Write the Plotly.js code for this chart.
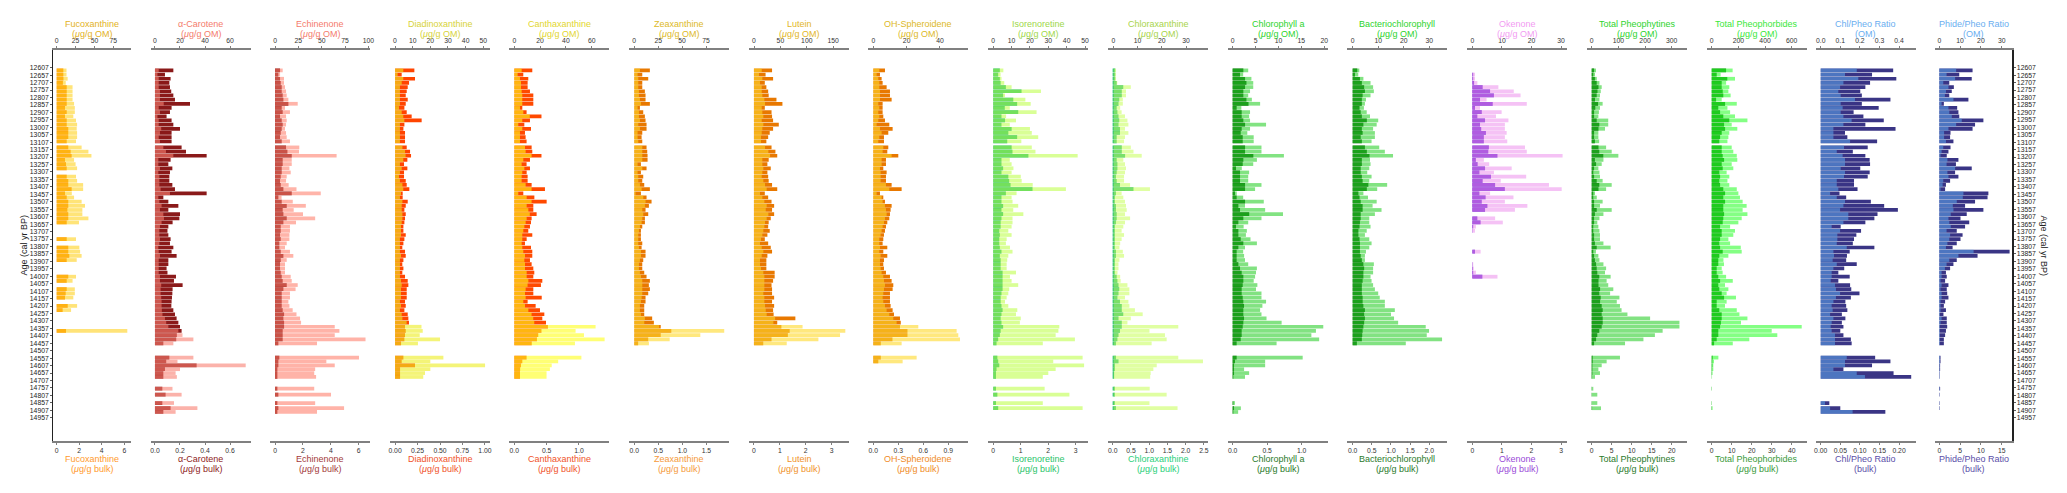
<!DOCTYPE html>
<html>
<head>
<meta charset="utf-8">
<script src="https://cdn.plot.ly/plotly-3.0.1.min.js"></script>
<style>body{margin:0;background:#fff}</style>
</head>
<body>
<div id="chart" style="width:2067px;height:493px"></div>
<script>
var NA = null;

// sample ages (cal yr BP)
var ages = [12625,12653,12681,12709,12737,12765,12793,12821,12849,12877,12905,12933,12961,12989,13017,13045,13073,13101,
  13142,13170,13198,13226,13254,13282,13310,13338,13366,13394,
  13422,13450,13478,13506,13534,13562,13590,13618,13646,13674,
  13702,13730,13758,13786,13814,13842,13870,13898,13926,13954,
  13982,14010,14038,14066,14094,14122,14150,14178,14206,14234,
  14262,14290,14318,14346,14374,14402,14430,14458,
  14553,14579,14605,14631,14657,14683,
  14762,14802,
  14858,14893,14918];

var ageTicks = [12607,12657,12707,12757,12807,12857,12907,12957,13007,13057,13107,13157,13207,13257,13307,13357,
  13407,13457,13507,13557,13607,13657,13707,13757,13807,13857,13907,13957,14007,14057,14107,14157,
  14207,14257,14307,14357,14407,14457,14507,14557,14607,14657,14707,14757,14807,14857,14907,14957];

// Fucoxanthine
var fucoOM = [13,13,14.5,12,21,21,21,21,23,24,24,22,25.6,27,26.5,27,27,25.6,
  33,42,46,23,25,27,NA,25.6,27,35,
  35,20,23,33,37.5,34,34,42,29.5,NA,
  NA,NA,25.6,NA,30,31,33,26.5,NA,NA,
  NA,25.6,21,NA,24,24,22,NA,27,19,
  NA,NA,NA,NA,93.5,NA,NA,NA,
  NA,NA,NA,NA,NA,NA, NA,NA, NA,NA,NA];
var fucoBulk = [0.59,0.59,0.6,0.55,0.89,0.89,0.89,0.89,0.89,0.74,0.89,0.74,0.89,0.89,1.03,1.03,1.03,0.89,
  1.03,1.24,1.33,0.74,0.83,0.89,NA,0.89,1.03,1.03,
  1.33,0.74,0.89,1.03,1.03,0.95,1.03,1.03,0.89,NA,
  NA,NA,0.89,NA,1.03,1.03,1.12,0.89,NA,NA,
  NA,1.03,0.89,NA,0.89,0.8,0.74,NA,0.98,0.53,
  NA,NA,NA,NA,0.83,NA,NA,NA,
  NA,NA,NA,NA,NA,NA, NA,NA, NA,NA,NA];

// alpha-Carotene
var acarOM = [3,2,3,3,3,4,4,4,7,3,4,2,3,3,5,4,3,4,
  6.7,8.8,14.7,2.7,2.7,4,2.7,3.5,3.5,3.5,
  4.5,12,2.7,3.5,5.3,4,6.7,7.2,5.3,4,
  3.5,3.5,4,3.5,2.7,3,4,3,3,3,
  3,4,4,5,4.5,4.5,5,5.3,5.3,5.5,
  6,8,9,10.7,18.7,22,30.7,14.7,
  30.7,18,72.5,20,16.5,17.5, 14,21.3, 15.2,33.9,16.5];
var acarBulk = [0.147,0.08,0.125,0.115,0.12,0.13,0.147,0.16,0.28,0.133,0.12,0.093,0.133,0.147,0.2,0.133,0.133,0.133,
  0.213,0.248,0.413,0.125,0.107,0.139,0.12,0.115,0.115,0.139,
  0.16,0.413,0.067,0.107,0.187,0.107,0.2,0.195,0.141,0.107,
  0.1,0.107,0.125,0.12,0.147,0.133,0.173,0.107,0.107,0.093,
  0.1,0.168,0.152,0.221,0.141,0.139,0.136,0.133,0.131,0.147,
  0.16,0.173,0.187,0.2,0.213,0.175,0.17,0.067,
  0.115,0.09,0.333,0.08,0.067,0.067, 0.059,0.085, 0.059,0.125,0.067];

// Echinenone
var echOM = [8.2,5.4,9.6,9.6,10.7,11.8,12.5,14.3,24.3,10.7,16,11.8,12.5,11.8,10.7,11.8,12.5,16,
  26,25.7,66,17.9,17.9,15.4,16.8,12.5,11.8,14.6,
  23,49,7,19,33,20,30,43,22.5,16,
  16,15.4,15.4,12.5,10.7,16,19.6,12.5,10.7,10.7,
  10.7,16.8,17.9,24.3,22,16,16,14.3,15.4,18.9,
  23,26.8,27.9,64,69,64,97,45,
  90,55,64,43,42,44, 42,60, 43,74,45];
var echBulk = [0.36,0.24,0.36,0.41,0.48,0.48,0.55,0.6,0.96,0.48,0.55,0.36,0.48,0.55,0.48,0.41,0.36,0.48,
  0.79,0.89,1.2,0.55,0.55,0.48,0.48,0.41,0.36,0.41,
  0.6,1.2,0.24,0.48,0.84,0.55,0.6,0.84,0.6,0.41,
  0.41,0.36,0.41,0.31,0.31,0.41,0.6,0.41,0.36,0.36,
  0.41,0.48,0.55,0.84,0.6,0.48,0.48,0.48,0.48,0.55,
  0.65,0.6,0.65,0.65,0.55,0.55,0.55,0.24,
  0.31,0.24,0.24,0.17,0.17,0.17, 0.17,0.24, 0.17,0.24,0.17];

// Diadinoxanthine
var diaOM = [4.7,1.5,4.7,3.8,2.8,2.8,2.8,2.8,2.8,2.3,3.8,4.7,5.3,2.8,2.8,2.8,2.8,2.8,
  4.2,5.7,6,4.7,2.8,3.8,2.8,2.3,2.8,4.2,
  4.7,3.4,2.8,4.2,3.8,3.8,4.2,4.2,3.8,3.4,
  3.4,3.4,2.8,2.8,2.8,2.8,3.4,2.8,2.8,2.8,
  2.8,2.8,3.4,3.8,3.4,3.4,3.4,2.8,3.4,2.8,
  3.8,4.2,6.6,15,15.7,14,25.5,13,
  27.4,20,51,20,17,16, NA,NA, NA,NA,NA];
var diaBulk = [0.215,0.074,0.222,0.156,0.141,0.13,0.119,0.141,0.119,0.104,0.13,0.185,0.296,0.104,0.093,0.111,0.111,0.111,
  0.13,0.167,0.178,0.137,0.1,0.137,0.1,0.1,0.119,0.13,
  0.159,0.085,0.085,0.141,0.119,0.104,0.119,0.111,0.104,0.093,
  0.093,0.119,0.104,0.093,0.081,0.111,0.119,0.093,0.081,0.093,
  0.081,0.111,0.141,0.148,0.13,0.13,0.13,0.111,0.119,0.104,
  0.141,0.148,0.155,0.111,0.119,0.111,0.104,0.067,
  0.093,0.074,0.222,0.056,0.056,0.056, NA,NA, NA,NA,NA];

// Canthaxanthine
var canOM = [5.7,2.6,4.4,5.2,5.2,5.7,6.2,6.2,6.2,4.4,7,12,6.2,3.1,6.2,4.4,4.4,4.4,
  8.3,8.8,13.4,7,5.7,7.8,6.2,5.7,5.7,8.8,
  13.4,3.1,9.6,13.4,9.6,10.9,12,9.6,8.8,7.8,
  7,6.2,6.2,5.7,6.2,7,8.3,7.8,8.3,8.3,
  9.6,9.6,10.9,10.3,8.8,8.3,8.8,7,8.3,10.9,
  13.4,14.7,15.5,63,47.5,54,70,47,
  52,34,29,27.6,25,25, NA,NA, NA,NA,NA];
var canBulk = [0.278,0.139,0.216,0.206,0.206,0.242,0.294,0.294,0.294,0.124,0.19,0.42,0.242,0.155,0.258,0.165,0.175,0.19,
  0.268,0.278,0.42,0.242,0.19,0.242,0.191,0.206,0.206,0.268,
  0.474,0.139,0.31,0.5,0.294,0.294,0.345,0.268,0.258,0.242,
  0.216,0.278,0.191,0.165,0.258,0.278,0.278,0.242,0.268,0.294,
  0.309,0.294,0.433,0.412,0.294,0.294,0.424,0.206,0.33,0.397,
  0.464,0.433,0.49,0.52,0.42,0.37,0.35,0.27,
  0.19,0.124,0.103,0.09,0.088,0.088, NA,NA, NA,NA,NA];

// Zeaxanthine
var zeaOM = [5.9,3.5,4.2,4.2,4.2,4.9,4.9,5.9,7,3.5,4.9,4.9,5.9,4.2,5.9,3.5,3.5,4.2,
  8.4,8.4,8.4,8.4,3.5,8.4,3.5,4.2,4.2,5.9,
  7.7,1.4,9.4,11.8,11.1,8.4,9.4,8.4,7.7,5.9,
  4.9,4.2,4.2,4.2,4.9,7,7,5.9,4.9,4.9,
  5.9,7,8.4,8.4,8.4,8.4,7.7,7,5.9,5.9,
  7,11.1,10.5,26,94,69,37,15.3,
  NA,NA,NA,NA,NA,NA, NA,NA, NA,NA,NA];
var zeaBulk = [0.324,0.166,0.29,0.166,0.166,0.22,0.234,0.234,0.324,0.117,0.186,0.22,0.234,0.255,0.255,0.166,0.152,0.166,
  0.255,0.269,0.276,0.276,0.138,0.255,0.138,0.186,0.166,0.207,
  0.324,0.138,0.255,0.359,0.304,0.234,0.29,0.221,0.221,0.166,
  0.138,0.138,0.138,0.166,0.152,0.234,0.234,0.186,0.166,0.166,
  0.207,0.255,0.324,0.303,0.324,0.29,0.234,0.234,0.207,0.207,
  0.207,0.372,0.407,0.55,0.77,0.55,0.29,0.08,
  NA,NA,NA,NA,NA,NA, NA,NA, NA,NA,NA];

// Lutein
var lutOM = [14.6,9.5,15.8,11.4,14.6,14.6,15.8,19.6,20.9,14.6,15.8,17.7,14.6,17.7,15.8,14.6,13.3,13.3,
  20.9,27.2,30.4,15.8,15.8,17.7,15.8,14.6,17.7,20.9,
  24,11.4,15.8,19.6,24,22.2,27.2,24,20.9,19.6,
  17.7,15.8,13.3,11.4,14.6,17.7,14.6,11.4,11.4,13.3,
  17.7,19.6,19.6,19.6,19.6,17.7,19.6,19.6,20.9,22.2,
  24,40,36.7,92,173,163,122,62,
  NA,NA,NA,NA,NA,NA, NA,NA, NA,NA,NA];
var lutBulk = [0.7,0.45,0.74,0.42,0.48,0.55,0.57,0.87,1.1,0.42,0.68,0.7,0.74,0.96,0.74,0.61,0.55,0.48,
  0.68,0.83,0.9,0.57,0.52,0.65,0.52,0.55,0.57,0.7,
  0.9,0.42,0.55,0.68,0.78,0.7,0.78,0.65,0.57,0.55,
  0.61,0.52,0.42,0.55,0.65,0.7,0.52,0.48,0.48,0.48,
  0.8,0.8,0.74,0.68,0.7,0.7,0.78,0.7,0.78,0.74,
  0.76,1.6,0.9,1.06,1.38,1.31,0.68,0.36,
  NA,NA,NA,NA,NA,NA, NA,NA, NA,NA,NA];

// OH-Spheroidene
var ohsOM = [3.6,2,3,3.6,3.6,4,4,4,3,3.6,3,3.6,3,2,4,5,3.6,3,
  6,5.6,11,5,5,4,4.4,4.4,4.4,7.6,
  9.6,2,5,5.6,7,7.6,8,7,6.4,5.6,
  5,4.4,3.6,3.6,4,3.6,4.4,4,4,4.4,
  5,6,6.4,7,6.4,6,5.6,6,7,8,
  9.6,12,14,27,50,51,52,17,
  26,17.6,NA,NA,NA,NA, NA,NA, NA,NA,NA];
var ohsBulk = [0.14,0.08,0.1,0.112,0.16,0.2,0.2,0.22,0.112,0.112,0.112,0.12,0.14,0.192,0.232,0.18,0.128,0.128,
  0.18,0.168,0.3,0.152,0.152,0.12,0.16,0.152,0.152,0.22,
  0.34,0.08,0.12,0.14,0.22,0.208,0.2,0.192,0.168,0.152,
  0.14,0.128,0.12,0.112,0.168,0.12,0.168,0.128,0.12,0.128,
  0.152,0.2,0.22,0.24,0.232,0.2,0.2,0.2,0.208,0.232,
  0.248,0.32,0.33,0.32,0.41,0.41,0.23,0.09,
  0.09,0.06,NA,NA,NA,NA, NA,NA, NA,NA,NA];

// Isorenoretine
var isoOM = [5.5,4,4.5,6,10,26,6.4,17.5,20.4,9,23.6,7,12.4,9,20,21,24.5,15.3,
  21,23,46,9,10,11,10,15,15.5,21.5,
  39.6,12.7,10,10.5,13.6,10.9,16.4,10.5,10.5,10,
  8.2,10,7.3,6.9,9.1,10.5,8.2,7.6,7.3,7.3,
  12.4,9.1,10,13.6,8.7,8.2,7.3,6.4,8.2,13.1,
  12.4,15,14.5,36,35.5,34,44.5,27,
  48.7,32.7,49.5,34,30,27, 28,41.5, 27,48.7,NA];
var isoBulk = [0.24,0.18,0.24,0.27,0.46,1.03,0.36,0.73,0.87,0.42,0.91,0.3,0.43,0.3,0.67,0.55,0.87,0.51,
  0.67,0.7,1.28,0.3,0.3,0.36,0.3,0.55,0.58,0.63,
  1.43,0.46,0.3,0.3,0.36,0.3,0.36,0.3,0.27,0.27,
  0.22,0.24,0.22,0.22,0.24,0.3,0.24,0.27,0.27,0.27,
  0.34,0.34,0.34,0.34,0.34,0.3,0.27,0.27,0.3,0.34,
  0.3,0.27,0.3,0.36,0.27,0.24,0.18,0.12,
  0.15,0.18,0.22,0.12,0.1,0.1, 0.1,0.15, 0.1,0.18,NA];

// Chloraxanthine
var chxOM = [1.1,1.1,1.1,1.6,7.2,5.2,5.2,3.9,3.9,2.8,3.4,4.8,5.8,6.2,4.8,6.2,4.8,4.4,
  7.2,8.3,11.7,4.1,4.8,5.2,4.8,4.4,4.4,6.9,
  15.1,3.4,4.1,4.8,5.2,5.5,4.8,6.9,4.8,4.1,
  3.4,4.4,3.4,2.8,2.5,3.9,4.4,2.5,2.1,2.1,
  1.7,2.8,3,5.8,6.6,6.6,4.8,6.2,6.6,8.9,
  12.1,7.2,5.8,26.8,14.9,21.3,22,15.8,
  26.8,37,17.9,16.5,15.4,15.2, 15,22, 14.9,26.5,NA];
var chxBulk = [0.07,0.07,0.07,0.11,0.29,0.25,0.25,0.18,0.16,0.11,0.13,0.16,0.18,0.16,0.2,0.2,0.11,0.11,
  0.25,0.25,0.34,0.11,0.13,0.13,0.11,0.09,0.11,0.2,
  0.57,0.09,0.06,0.06,0.09,0.09,0.11,0.11,0.09,0.06,
  0.06,0.06,0.06,0.06,0.06,0.09,0.09,0.06,0.06,0.06,
  0.06,0.11,0.13,0.16,0.18,0.16,0.13,0.2,0.25,0.25,
  0.29,0.16,0.25,0.25,0.2,0.16,0.13,0.09,
  0.09,0.16,0.06,0.06,0.04,0.04, 0.06,0.06, 0.06,0.09,NA];

// Chlorophyll a
var chlOM = [3.4,2.3,4.1,4.5,4.5,3.8,3.4,4.2,6,1.9,3.8,3.6,3.8,7.3,3.8,3.2,4.6,4.6,
  6.3,6.3,11.2,5.3,4.5,2,3.6,3.4,3.4,6.3,
  4.9,0.9,2.3,6.8,2.7,7.1,11,6.3,3.4,2.4,
  3.1,2.9,3.9,5.3,2.7,2.3,2.5,2.7,3.4,5.3,
  5.1,4.9,4.6,5.4,5.1,6.3,6.3,7.3,6.5,6,
  6.3,7.4,10.7,19.8,18.2,17.2,18.9,9.6,
  15.3,7.1,7.1,2.5,3.6,2.7, NA,NA, 0.5,1.8,1.2];
var chlBulk = [0.155,0.107,0.18,0.2,0.18,0.155,0.155,0.2,0.23,0.058,0.131,0.131,0.155,0.18,0.131,0.117,0.146,0.146,
  0.18,0.18,0.3,0.155,0.146,0.049,0.107,0.107,0.107,0.18,
  0.18,0.034,0.058,0.18,0.083,0.107,0.24,0.155,0.083,0.049,
  0.083,0.083,0.117,0.155,0.083,0.058,0.058,0.058,0.083,0.107,
  0.131,0.155,0.155,0.146,0.131,0.131,0.146,0.155,0.165,0.155,
  0.155,0.165,0.155,0.146,0.131,0.131,0.117,0.058,
  0.058,0.034,0.02,0.02,0.02,0.01, NA,NA, 0.01,0.02,0.01];

// Bacteriochlorophyll
var bchOM = [2.6,2.2,4.2,7,8,8.3,7,5.2,4.8,4.4,5.5,6.8,10,9.4,8,8.7,8.7,7.4,
  10.4,12.6,15.8,6.8,7,6.5,5.7,7.4,6.5,13.5,
  9.6,4.2,6,9.4,7.8,11.3,8.7,6.5,6.5,7,
  5.5,4.8,6.5,7.4,6.5,5.2,4.8,4.8,8.3,8,
  8,7,7.4,8,8.7,10,10.6,12.6,12.6,16.5,
  15,16.2,17.8,28.6,29.9,29,35,20.8,
  NA,NA,NA,NA,NA,NA, NA,NA, NA,NA,NA];
var bchBulk = [0.12,0.06,0.19,0.24,0.3,0.32,0.26,0.24,0.24,0.18,0.21,0.24,0.37,0.28,0.24,0.26,0.21,0.24,
  0.32,0.37,0.44,0.24,0.24,0.21,0.21,0.24,0.26,0.41,
  0.37,0.15,0.18,0.21,0.26,0.26,0.21,0.21,0.19,0.18,
  0.15,0.15,0.18,0.19,0.19,0.19,0.21,0.24,0.28,0.3,
  0.28,0.28,0.26,0.24,0.24,0.24,0.26,0.26,0.28,0.32,
  0.3,0.32,0.3,0.28,0.26,0.25,0.24,0.11,
  NA,NA,NA,NA,NA,NA, NA,NA, NA,NA,NA];

// Okenone
var okeOM = [NA,0.9,0.9,1.7,8.8,14,16.3,4.8,18.4,2.6,9.9,8,12.2,11,11,11.6,11,11.8,
  17.8,18.4,30.5,3.9,5.7,13.3,7.3,18.2,9.6,25.9,
  30.2,6,13.9,11,18.6,14.4,NA,7.7,10.3,1.2,
  0.9,NA,NA,NA,NA,2.8,NA,NA,0.3,0.5,
  1.2,8.5,NA,NA,NA,NA,NA,NA,NA,NA,
  NA,NA,NA,NA,NA,NA,NA,NA,
  NA,NA,NA,NA,NA,NA, NA,NA, NA,NA,NA];
var okeBulk = [NA,0.03,0.03,0.06,0.35,0.6,0.73,0.26,0.69,0.09,0.32,0.17,0.43,0.26,0.3,0.46,0.39,0.39,
  0.56,0.54,0.85,0.12,0.18,0.43,0.24,0.63,0.35,0.77,
  1.1,0.24,0.45,0.32,0.51,0.43,NA,0.17,0.28,0.03,
  0.01,NA,NA,NA,NA,0.09,NA,NA,0.01,0.02,
  0.03,0.34,NA,NA,NA,NA,NA,NA,NA,NA,
  NA,NA,NA,NA,NA,NA,NA,NA,
  NA,NA,NA,NA,NA,NA, NA,NA, NA,NA,NA];

// Total Pheophytines
var phyOM = [16,12.5,19,29,37.5,34,31,29,41,31,27,25,62,62,50,25,25,28,
  54,75,100,44,37.5,25,29,31,41,75,
  54,12.5,19,41,31,75,44,29,21,25,
  29,31,31,44,71,16,25,29,44,54,
  50,71,56,62,81,69,104,94,106,112,
  134,219,329,329,266,237,194,125,
  106,56,37.5,25,31,12.5, 6,21, 21,35,NA];
var phyBulk = [0.6,0.4,0.8,1.25,1.7,1.45,1.25,0.83,1.6,0.9,0.6,0.6,1.25,1.9,1.7,0.6,0.6,0.8,
  1.7,1.9,2.9,0.8,1.1,0.6,0.4,0.6,1.25,1.9,
  1.7,0.4,0.4,0.6,0.6,1.25,0.8,0.6,0.6,0.4,
  0.4,0.6,0.6,0.8,1.25,0.4,0.6,0.8,1.1,1.25,
  1.4,1.9,1.7,1.7,2.1,1.9,2.25,2.1,2.5,2.75,
  2.5,2.75,2.75,2.5,1.9,1.4,1.1,0.6,
  0.25,0.25,0.17,0.17,0.17,0.1, 0.05,0.05, 0.05,0.1,NA];

// Total Pheophorbides
var pboOM = [157,67,175,108,132,125,142,75,188,118,138,175,268,150,192,132,125,118,
  150,162,188,192,150,162,112,132,118,132,
  188,200,212,232,262,232,268,225,200,138,
  175,162,125,138,218,225,125,88,92,75,
  82,108,158,100,125,112,182,112,100,188,
  208,268,220,675,450,492,282,158,
  50,17,12,12,7,2.5, 2,NA, 2,7,NA];
var pboBulk = [7.2,2.5,7.8,5,5,5.5,5.8,2.2,6.7,3.3,4.2,5.8,8.8,6.2,6.7,5,4.2,3.8,
  5,5,5.5,6.2,5,5.5,3.8,4.2,3.8,4.2,
  5.8,6.7,5.8,6.7,5.8,5.8,6.2,5.8,5.5,4.2,
  5,5,4.2,3.8,4.2,5.5,3.8,3.3,3.3,2.5,
  2.5,3.3,4.2,3.3,3.8,5,6.2,2.5,2.5,3.8,
  5,5,4.6,4.2,3.3,3.3,2.5,1.2,
  0.5,0.3,0.3,0.2,0.15,0.05, 0.1,NA, 0.1,0.15,NA];

// Chl/Pheo ratio
var chlpOM = [0.184,0.124,0.192,0.116,0.099,0.09,0.102,0.175,0.102,0.112,0.102,0.116,0.158,0.116,0.065,0.065,0.065,0.15,
  0.119,0.082,0.112,0.124,0.124,0.102,0.124,0.119,0.082,0.082,
  0.09,0.048,0.082,0.124,0.116,0.099,0.141,0.141,0.116,0.056,
  0.099,0.085,0.085,0.082,0.133,0.065,0.068,0.061,0.082,0.065,
  0.056,0.056,0.051,0.073,0.078,0.099,0.078,0.065,0.056,0.061,
  0.048,0.065,0.056,0.051,0.056,0.073,0.073,0.073,
  0.133,0.124,0.124,0.065,0.184,0.226, NA,NA, 0.022,0.048,0.163];
var chlpBulk = [0.185,0.131,0.193,0.126,0.114,0.101,0.105,0.178,0.105,0.148,0.084,0.109,0.161,0.114,0.191,0.062,0.068,0.144,
  0.12,0.082,0.114,0.125,0.126,0.101,0.125,0.12,0.085,0.085,
  0.094,0.048,0.065,0.128,0.162,0.197,0.145,0.137,0.114,0.051,
  0.103,0.091,0.085,0.082,0.137,0.074,0.067,0.065,0.092,0.06,
  0.045,0.074,0.045,0.075,0.078,0.099,0.077,0.063,0.065,0.068,
  0.054,0.063,0.054,0.058,0.05,0.058,0.077,0.079,
  0.139,0.178,0.131,0.058,0.186,0.231, NA,NA, 0.022,0.05,0.165];

// Phide/Pheo ratio
var phidOM = [8.1,3.5,7.6,1.9,4.4,3.2,2.7,6.8,1.1,4.4,4.8,6,10.8,8.1,4.4,2.3,2.3,3.2,
  1.9,1.1,0.6,3.9,3.5,7.6,3.9,4.4,1.9,1.6,
  0.6,11.6,11.3,8.4,6.5,6.8,5.5,4.4,4.8,5.5,
  3.5,5.2,4.8,3.9,3.2,16.5,9.2,4.8,3.5,2.7,
  1.1,1.1,0.6,1.1,0.6,1.1,1.1,0.6,0.6,0.6,
  0.3,1.1,0.6,0.3,0.3,0.3,0.3,0.3,
  0.3,0.3,0.2,0.2,0.15,0.15, 0.2,0.1, 0.1,0.1,NA];
var phidBulk = [8,4.8,7.8,2.4,3.5,3,2.4,7,1.1,4.3,4.6,4.8,10.6,8.6,8,2.7,2.6,3.4,
  2.7,2.2,1.8,4.6,4,7.8,3.8,4.6,2.6,1.6,
  1.4,11.8,11.6,8.6,6.2,10.6,6.6,5.1,7.2,6.2,
  4.2,5.6,5.1,4.2,3.2,16.9,9.2,4.2,3.4,2.6,
  1.6,1.8,1.4,2.2,1.8,1.9,2.2,1.4,1.1,1.6,
  1,1.8,1.8,1.9,1.6,1.4,1.1,1.1,
  0.3,0.3,0.2,0.2,0.1,0.1, 0.2,0.1, 0.1,0.1,NA];

// tick labels
var fucoTopTicks=['0','25','50','75'], fucoBotTicks=['0','2','4','6'];
var acarTopTicks=['0','20','40','60'], acarBotTicks=['0.0','0.2','0.4','0.6'];
var echTopTicks=['0','25','50','75','100'], echBotTicks=['0','2','4','6'];
var diaTopTicks=['0','10','20','30','40','50'], diaBotTicks=['0.00','0.25','0.50','0.75','1.00'];
var canTopTicks=['0','20','40','60'], canBotTicks=['0.0','0.5','1.0'];
var zeaTopTicks=['0','25','50','75'], zeaBotTicks=['0.0','0.5','1.0','1.5'];
var lutTopTicks=['0','50','100','150'], lutBotTicks=['0','1','2','3'];
var ohsTopTicks=['0','20','40'], ohsBotTicks=['0.0','0.3','0.6','0.9'];
var isoTopTicks=['0','10','20','30','40','50'], isoBotTicks=['0','1','2','3'];
var chxTopTicks=['0','10','20','30'], chxBotTicks=['0.0','0.5','1.0','1.5','2.0','2.5'];
var chlTopTicks=['0','5','10','15','20'], chlBotTicks=['0.0','0.5','1.0'];
var bchTopTicks=['0','10','20','30'], bchBotTicks=['0.0','0.5','1.0','1.5','2.0'];
var okeTopTicks=['0','10','20','30'], okeBotTicks=['0','1','2','3'];
var phyTopTicks=['0','100','200','300'], phyBotTicks=['0','5','10','15','20'];
var pboTopTicks=['0','200','400','600'], pboBotTicks=['0','10','20','30','40'];
var chlpTopTicks=['0.0','0.1','0.2','0.3','0.4'], chlpBotTicks=['0.00','0.05','0.10','0.15','0.20'];
var phidTopTicks=['0','10','20','30'], phidBotTicks=['0','5','10','15'];

var UOM = '(<i>μ</i>g/g OM)', UBULK = '(<i>μ</i>g/g bulk)';

var panels = [
  {name:'Fucoxanthine', u1:UOM, u2:UBULK, om:fucoOM, bulk:fucoBulk, tt:fucoTopTicks, bt:fucoBotTicks, left:53.3, w:77.4, omR:[-4.5,98], buR:[-0.3,6.57], omC:'#FFD21F', buC:'#FF8400', c1:'#E3B224', c2:'#FF9A2E'},
  {name:'α-Carotene', u1:UOM, u2:UBULK, om:acarOM, bulk:acarBulk, tt:acarTopTicks, bt:acarBotTicks, left:150.7, w:100, omR:[-3.4,76.5], buR:[-0.034,0.765], omC:'#FA8072', buC:'#8B1A1A', c1:'#F47C6C', c2:'#8E2323'},
  {name:'Echinenone', u1:UOM, u2:UBULK, om:echOM, bulk:echBulk, tt:echTopTicks, bt:echBotTicks, left:270, w:100, omR:[-5.4,101.8], buR:[-0.36,6.81], omC:'#FF8270', buC:'#7A0A0A', c1:'#F47C6C', c2:'#A33A3A'},
  {name:'Diadinoxanthine', u1:UOM, u2:UBULK, om:diaOM, bulk:diaBulk, tt:diaTopTicks, bt:diaBotTicks, left:390, w:100, omR:[-2.83,53.8], buR:[-0.056,1.056], omC:'#EEEE20', buC:'#FF4500', c1:'#D7D33A', c2:'#F0522A'},
  {name:'Canthaxanthine', u1:UOM, u2:UBULK, om:canOM, bulk:canBulk, tt:canTopTicks, bt:canBotTicks, left:509, w:100, omR:[-4.1,73.4], buR:[-0.082,1.464], omC:'#FFFF1A', buC:'#FF4A00', c1:'#E2D62E', c2:'#F0522A'},
  {name:'Zeaxanthine', u1:UOM, u2:UBULK, om:zeaOM, bulk:zeaBulk, tt:zeaTopTicks, bt:zeaBotTicks, left:629, w:100, omR:[-5.5,99], buR:[-0.11,1.97], omC:'#FFD92A', buC:'#E87800', c1:'#DDB928', c2:'#F59A3C'},
  {name:'Lutein', u1:UOM, u2:UBULK, om:lutOM, bulk:lutBulk, tt:lutTopTicks, bt:lutBotTicks, left:749, w:100, omR:[-9.5,180], buR:[-0.19,3.67], omC:'#FFD92A', buC:'#E87800', c1:'#E2B628', c2:'#F0922C'},
  {name:'OH-Spheroidene', u1:UOM, u2:UBULK, om:ohsOM, bulk:ohsBulk, tt:ohsTopTicks, bt:ohsBotTicks, left:868.3, w:100, omR:[-3,57], buR:[-0.06,1.14], omC:'#FFD92A', buC:'#E87800', c1:'#DDB928', c2:'#F08C28'},
  {name:'Isorenoretine', u1:UOM, u2:UBULK, om:isoOM, bulk:isoBulk, tt:isoTopTicks, bt:isoBotTicks, left:988.3, w:100, omR:[-2.7,51.8], buR:[-0.18,3.46], omC:'#C0FF50', buC:'#00B16E', c1:'#9ED84A', c2:'#2BC46A'},
  {name:'Chloraxanthine', u1:UOM, u2:UBULK, om:chxOM, bulk:chxBulk, tt:chxTopTicks, bt:chxBotTicks, left:1108.3, w:100, omR:[-2.1,39.2], buR:[-0.12,2.62], omC:'#CCFF66', buC:'#00B16E', c1:'#A8D44A', c2:'#2BD07A'},
  {name:'Chlorophyll a', u1:UOM, u2:UBULK, om:chlOM, bulk:chlBulk, tt:chlTopTicks, bt:chlBotTicks, left:1228.3, w:100, omR:[-0.95,20.9], buR:[-0.063,1.386], omC:'#30D030', buC:'#005A00', c1:'#2DD42D', c2:'#2A7A2A'},
  {name:'Bacteriochlorophyll', u1:UOM, u2:UBULK, om:bchOM, bulk:bchBulk, tt:bchTopTicks, bt:bchBotTicks, left:1347.3, w:100, omR:[-2.1,37.05], buR:[-0.14,2.47], omC:'#30D030', buC:'#005A00', c1:'#2DD42D', c2:'#2A7A2A'},
  {name:'Okenone', u1:UOM, u2:UBULK, om:okeOM, bulk:okeBulk, tt:okeTopTicks, bt:okeBotTicks, left:1467.3, w:100, omR:[-1.7,32.1], buR:[-0.17,3.21], omC:'#EE99EE', buC:'#5300CA', c1:'#F29CF2', c2:'#9A4AD8'},
  {name:'Total Pheophytines', u1:UOM, u2:UBULK, om:phyOM, bulk:phyBulk, tt:phyTopTicks, bt:phyBotTicks, left:1587.3, w:100, omR:[-16.5,358.5], buR:[-1.1,23.9], omC:'#30D030', buC:'#005A00', c1:'#2DD42D', c2:'#2A7A2A'},
  {name:'Total Pheophorbides', u1:UOM, u2:UBULK, om:pboOM, bulk:pboBulk, tt:pboTopTicks, bt:pboBotTicks, left:1706.7, w:100, omR:[-37.5,712.5], buR:[-2.5,47.5], omC:'#33FF33', buC:'#008000', c1:'#3AE83A', c2:'#3A9A3A'},
  {name:'Chl/Pheo Ratio', u1:'(OM)', u2:'(bulk)', om:chlpOM, bulk:chlpBulk, tt:chlpTopTicks, bt:chlpBotTicks, left:1815.7, w:100, omR:[-0.0255,0.485], buR:[-0.0128,0.2425], omC:'#5AA0E8', buC:'#3A3585', c1:'#6AAEF0', c2:'#5A4EA8'},
  {name:'Phide/Pheo Ratio', u1:'(OM)', u2:'(bulk)', om:phidOM, bulk:phidBulk, tt:phidTopTicks, bt:phidBotTicks, left:1935, w:77.3, omR:[-2.07,35.1], buR:[-1.03,17.55], omC:'#5AA0E8', buC:'#3A3585', c1:'#6AAEF0', c2:'#5A4EA8'}
];

var W = 2067, H = 493;
var FONT = 'Liberation Sans, Arial, sans-serif';
var yTop = 50, yBot = 440.7;

panels.forEach(function(p){
  if (p.om.length !== ages.length || p.bulk.length !== ages.length)
    throw new Error(p.name + ' length ' + p.om.length + '/' + p.bulk.length);
});

var data = [];
var layout = {
  width: W, height: H,
  margin: {l:0, r:0, t:0, b:0},
  paper_bgcolor: '#fff', plot_bgcolor: 'rgba(0,0,0,0)',
  showlegend: false,
  barmode: 'overlay',
  font: {family: FONT, size: 7, color: '#333'},
  annotations: []
};

function yAxis(anchor, side) {
  return {
    domain: [1 - yBot / H, 1 - yTop / H], anchor: anchor, side: side,
    range: [15111, 12488],
    tickvals: ageTicks, ticktext: ageTicks.map(String),
    ticks: 'outside', ticklen: 2, tickcolor: '#333', tickwidth: 0.8,
    showline: true, linecolor: '#222', linewidth: 1.2,
    tickfont: {size: 6.8, family: FONT, color: '#222'},
    showgrid: false, zeroline: false, fixedrange: true
  };
}
layout.yaxis = yAxis('x', 'left');
layout.yaxis2 = yAxis('x17', 'right');

function xAxis(p, range, ticks, side, yref, overlay) {
  var ax = {
    domain: [p.left / W, (p.left + p.w) / W], anchor: yref, side: side,
    range: range,
    tickvals: ticks.map(Number), ticktext: ticks,
    ticks: 'outside', ticklen: 2.5, tickcolor: '#808080', tickwidth: 1,
    showline: true, linecolor: '#808080', linewidth: 1.8,
    tickfont: {size: 6.8, family: FONT, color: '#333'},
    showgrid: false, zeroline: false, fixedrange: true
  };
  if (overlay) ax.overlaying = overlay;
  return ax;
}

function ann(text, xPx, yPx, color, angle) {
  return {
    text: text, x: xPx / W, y: 1 - yPx / H, xref: 'paper', yref: 'paper',
    showarrow: false, xanchor: 'center', yanchor: 'middle', textangle: angle || 0,
    font: {family: FONT, size: 9, color: color}
  };
}

panels.forEach(function(p, i){
  var bId = i === 0 ? 'x' : 'x' + (i + 1);
  var tId = 'x' + (i + 18);
  var yId = i === 16 ? 'y2' : 'y';
  layout[i === 0 ? 'xaxis' : 'xaxis' + (i + 1)] = xAxis(p, p.buR, p.bt, 'bottom', yId, null);
  layout['xaxis' + (i + 18)] = xAxis(p, p.omR, p.tt, 'top', yId, bId);

  data.push({type: 'bar', orientation: 'h', y: ages, x: p.bulk, width: 25,
    xaxis: bId, yaxis: yId, marker: {color: p.buC, line: {width: 0}}, hoverinfo: 'skip'});
  data.push({type: 'bar', orientation: 'h', y: ages, x: p.om, width: 25, opacity: 0.6,
    xaxis: tId, yaxis: yId, marker: {color: p.omC, line: {width: 0}}, hoverinfo: 'skip'});

  var cx = p.left + p.w / 2;
  layout.annotations.push(ann(p.name, cx, 24, p.c1));
  layout.annotations.push(ann(p.u1, cx, 33.7, p.c1));
  layout.annotations.push(ann(p.name, cx, 458.7, p.c2));
  layout.annotations.push(ann(p.u2, cx, 468.7, p.c2));
});

layout.annotations.push(ann('Age (cal yr BP)', 24, 245.5, '#222', -90));
layout.annotations.push(ann('Age (cal yr BP)', 2043, 245.5, '#222', 90));

Plotly.newPlot('chart', data, layout, {staticPlot: true, displayModeBar: false});
</script>
</body>
</html>
